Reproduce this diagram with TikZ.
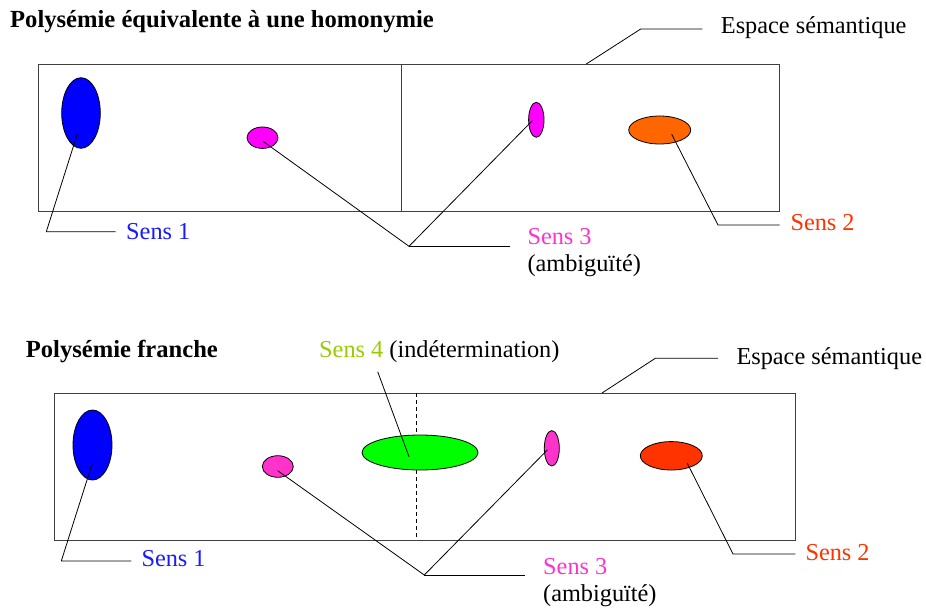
\documentclass[tikz,border=0pt]{standalone}
\usepackage{fontspec}
\setmainfont{Liberation Serif}
\usetikzlibrary{shapes.geometric}
\definecolor{cblue}{HTML}{0000FF}
\definecolor{ctblue}{HTML}{1A1AFF}
\definecolor{cmag}{HTML}{FF00FF}
\definecolor{cpink}{HTML}{FF33CC}
\definecolor{corange}{HTML}{FF6600}
\definecolor{cred}{HTML}{FF3300}
\definecolor{cgreen}{HTML}{00FF00}
\definecolor{cgreentxt}{HTML}{99CC00}
\tikzset{
  lbl/.style={anchor=base west, inner sep=0pt, font=\fontsize{24.3}{28}\selectfont},
  ttl/.style={anchor=base west, inner sep=0pt, font=\fontsize{24.6}{28}\selectfont\bfseries},
  blob/.style={ellipse, draw=black, line width=0.8pt, inner sep=0pt},
  frame/.style={draw=black!75, line width=1.2pt},
  leader/.style={draw=black, line width=0.8pt},
}
\begin{document}
\begin{tikzpicture}[x=1pt,y=-1pt]
\useasboundingbox (0,0) rectangle (926,608);

% ---------- top diagram ----------
\node[ttl] (t1) at (10,27.3) {Polysémie équivalente à une homonymie};
\node[frame, rectangle, minimum width=741pt, minimum height=147pt, inner sep=0pt, anchor=north west] (r1) at (38,64) {};
\coordinate (d1t) at (401.3,64);
\coordinate (d1b) at (401.3,211);
\draw[frame] (d1t) -- (d1b);

\node[blob, fill=cblue, minimum width=38.6pt, minimum height=70.6pt] (b1) at (81,113) {};
\node[blob, fill=cmag, minimum width=31pt, minimum height=21.4pt] (m1) at (262.5,137.7) {};
\node[blob, fill=cmag, minimum width=15.4pt, minimum height=35pt] (m2) at (536.3,119.8) {};
\node[blob, fill=corange, minimum width=62pt, minimum height=28pt] (o1) at (659.7,130) {};

\node[lbl, text=ctblue] (s1a) at (126,239) {Sens 1};
\node[lbl, text=cpink] (s3a) at (527.3,244) {Sens 3};
\node[lbl] (amb1) at (527.3,271.7) {(ambiguïté)};
\node[lbl, text=cred] (s2a) at (790.3,230.7) {Sens 2};
\node[lbl] (esp1) at (720.7,33.3) {Espace sémantique};

\coordinate (b1p) at (77.3,134);
\coordinate (b1k) at (46.3,231.7);
\coordinate (b1e) at (115.7,231.7);
\draw[leader] (b1p) -- (b1k) -- (b1e);

\coordinate (m1p) at (263,141.3);
\coordinate (m2p) at (532.3,120.7);
\coordinate (j1) at (409,246.3);
\coordinate (j1e) at (509.7,246.3);
\draw[leader] (m1p) -- (j1) -- (m2p);
\draw[leader] (j1) -- (j1e);

\coordinate (o1p) at (671.7,134.3);
\coordinate (o1k) at (718,225);
\coordinate (o1e) at (779.7,225);
\draw[leader] (o1p) -- (o1k) -- (o1e);

\coordinate (e1p) at (586.3,64);
\coordinate (e1k) at (640.7,29);
\coordinate (e1e) at (702.3,29);
\draw[leader] (e1p) -- (e1k) -- (e1e);

% ---------- bottom diagram ----------
\node[ttl] (t2) at (25.7,357.3) {Polysémie franche};
\node[lbl] (s4) at (319,357.3) {\textcolor{cgreentxt}{Sens 4} (indétermination)};
\node[frame, rectangle, minimum width=741.3pt, minimum height=146.7pt, inner sep=0pt, anchor=north west] (r2) at (53.7,393) {};
\coordinate (d2t) at (416.7,393);
\coordinate (d2b) at (416.7,539.7);
\draw[black, line width=0.8pt, dash pattern=on 4pt off 3pt] (d2t) -- (d2b);

\node[blob, fill=cblue, minimum width=39pt, minimum height=70pt] (b2) at (92.5,445) {};
\node[blob, fill=cpink, minimum width=31pt, minimum height=21.6pt] (p1) at (277.8,466.5) {};
\node[blob, fill=cgreen, minimum width=116pt, minimum height=35pt] (g1) at (420,452.5) {};
\node[blob, fill=cpink, minimum width=15pt, minimum height=35.4pt] (p2) at (551.8,448.3) {};
\node[blob, fill=cred, minimum width=62pt, minimum height=28.4pt] (r3) at (671.3,455.8) {};

\node[lbl, text=ctblue] (s1b) at (141.3,566.7) {Sens 1};
\node[lbl, text=cpink] (s3b) at (543,574) {Sens 3};
\node[lbl] (amb2) at (543,601.7) {(ambiguïté)};
\node[lbl, text=cred] (s2b) at (805.3,560) {Sens 2};
\node[lbl] (esp2) at (736.3,364) {Espace sémantique};

\coordinate (b2p) at (92.3,463.3);
\coordinate (b2k) at (61.3,561);
\coordinate (b2e) at (131.3,561);
\draw[leader] (b2p) -- (b2k) -- (b2e);

\coordinate (p1p) at (277.7,470.7);
\coordinate (p2p) at (547.3,450);
\coordinate (j2) at (424.3,575);
\coordinate (j2e) at (524.7,575);
\draw[leader] (p1p) -- (j2) -- (p2p);
\draw[leader] (j2) -- (j2e);

\coordinate (s4s) at (377.7,371.7);
\coordinate (g1p) at (409,456.7);
\draw[leader] (s4s) -- (g1p);

\coordinate (r3p) at (687.3,463.3);
\coordinate (r3k) at (733,554);
\coordinate (r3e) at (795.3,554);
\draw[leader] (r3p) -- (r3k) -- (r3e);

\coordinate (e2p) at (602,393);
\coordinate (e2k) at (655.3,358.3);
\coordinate (e2e) at (718,358.3);
\draw[leader] (e2p) -- (e2k) -- (e2e);
\end{tikzpicture}
\end{document}
